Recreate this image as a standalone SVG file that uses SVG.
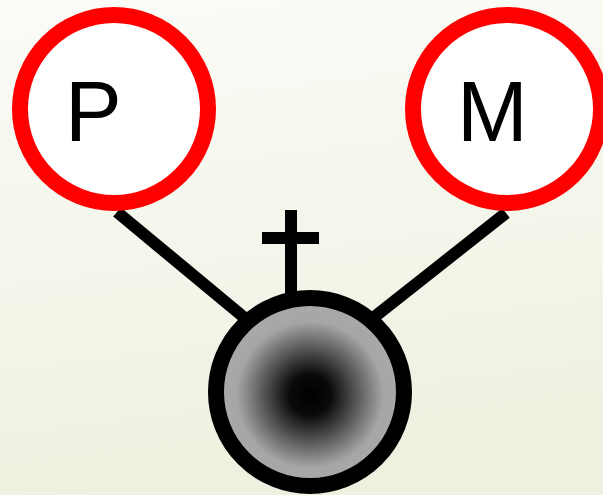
<svg xmlns="http://www.w3.org/2000/svg" width="603" height="495" viewBox="0 0 603 495">
<defs>
<linearGradient id="bg" x1="0" y1="0" x2="0.15" y2="1">
<stop offset="0" stop-color="#fbfcf8"/>
<stop offset="1" stop-color="#edf1df"/>
</linearGradient>
<radialGradient id="ball" cx="0.5" cy="0.515" r="0.5">
<stop offset="0" stop-color="#000"/>
<stop offset="0.22" stop-color="#0a0a0a"/>
<stop offset="0.5" stop-color="#585858"/>
<stop offset="0.78" stop-color="#a6a6a6"/>
<stop offset="1" stop-color="#aaa"/>
</radialGradient>
<style>
.parent{fill:#fff;stroke:#f00;stroke-width:16}
.lbl{font-family:"Liberation Sans",Arial,sans-serif;font-size:85px;fill:#000}
.edge{stroke:#000;stroke-width:12;fill:none}
</style>
</defs>
<rect width="603" height="495" fill="url(#bg)"/>
<g id="connectors">
<line class="edge" x1="117" y1="212" x2="252" y2="324"/>
<line class="edge" x1="506" y1="213" x2="368" y2="322"/>
<line class="edge" x1="291" y1="210" x2="291" y2="300"/>
<line class="edge" x1="262" y1="238" x2="319" y2="238"/>
</g>
<g id="P">
<circle class="parent" cx="114" cy="109" r="94"/>
<text class="lbl" x="65" y="141">P</text>
</g>
<g id="M">
<circle class="parent" cx="507" cy="109" r="94"/>
<text class="lbl" x="457" y="141">M</text>
</g>
<g id="child">
<circle cx="310" cy="392" r="94" fill="url(#ball)" stroke="#000" stroke-width="16"/>
</g>
</svg>
